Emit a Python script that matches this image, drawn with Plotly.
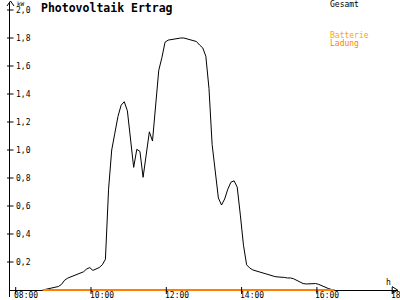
import plotly.graph_objects as go

times = ["08:43", "08:48", "08:53", "08:58", "09:03", "09:08", "09:13", "09:18", "09:23", "09:28",
         "09:33", "09:38", "09:43", "09:48", "09:53", "09:58", "10:03", "10:08", "10:13", "10:18",
         "10:23", "10:28", "10:33", "10:38", "10:43", "10:48", "10:53", "10:58", "11:03", "11:08",
         "11:13", "11:18", "11:23", "11:28", "11:33", "11:38", "11:43", "11:48", "11:53", "11:58",
         "12:03", "12:08", "12:13", "12:18", "12:23", "12:28", "12:33", "12:38", "12:43", "12:48",
         "12:53", "12:58", "13:03", "13:08", "13:13", "13:18", "13:23", "13:28", "13:33", "13:38",
         "13:43", "13:48", "13:53", "13:58", "14:03", "14:08", "14:13", "14:18", "14:23", "14:28",
         "14:33", "14:38", "14:43", "14:48", "14:53", "14:58", "15:03", "15:08", "15:13", "15:18",
         "15:23", "15:28", "15:33", "15:38", "15:43", "15:48", "15:53", "15:58", "16:03", "16:08",
         "16:13", "16:18", "16:23", "16:28"]

gesamt = [0, 0.005, 0.015, 0.02, 0.02, 0.025, 0.04, 0.07, 0.085, 0.095,
          0.10, 0.11, 0.12, 0.13, 0.15, 0.16, 0.14, 0.15, 0.16, 0.18,
          0.22, 0.72, 1.00, 1.12, 1.24, 1.32, 1.345, 1.28, 1.06, 0.876,
          1.005, 0.99, 0.805, 0.95, 1.13, 1.064, 1.31, 1.57, 1.66, 1.77,
          1.785, 1.79, 1.79, 1.795, 1.80, 1.80, 1.795, 1.785, 1.78, 1.775,
          1.75, 1.73, 1.67, 1.44, 1.04, 0.857, 0.657, 0.607, 0.65, 0.72,
          0.77, 0.78, 0.735, 0.535, 0.32, 0.18, 0.157, 0.143, 0.136, 0.13,
          0.12, 0.115, 0.107, 0.10, 0.096, 0.093, 0.093, 0.09, 0.086, 0.086,
          0.08, 0.07, 0.057, 0.046, 0.043, 0.043, 0.043, 0.046, 0.04, 0.03,
          0.018, 0.011, 0.004, 0]

batterie_ladung = [0] * len(times)

x_tick_hours = [8, 10, 12, 14, 16, 18]
x_tick_labels = ["08:00", "10:00", "12:00", "14:00", "16:00", "18:00"]
y_tick_vals = [0.2, 0.4, 0.6, 0.8, 1.0, 1.2, 1.4, 1.6, 1.8, 2.0]
y_tick_labels = ["0,2", "0,4", "0,6", "0,8", "1,0", "1,2", "1,4", "1,6", "1,8", "2,0"]

title = "Photovoltaik Ertrag"
legend_items = [("Gesamt", "#000000", 4.5), ("Batterie", "#FFA500", 36), ("Ladung", "#FF8000", 44)]

FONT = "DejaVu Sans Mono"
W, H = 400, 300
L, R, T, B = 10, 2, 2, 3
PW, PH = W - L - R, H - T - B


def X(px):
    return (px - L) / PW


def Y(py):
    return (H - B - py) / PH


def to_hours(t):
    h, m = t.split(":")
    return int(h) + int(m) / 60.0


hours = [to_hours(t) for t in times]

fig = go.Figure()
fig.add_trace(go.Scatter(x=hours, y=gesamt, mode="lines",
                         line=dict(color="black", width=1), hoverinfo="skip"))
fig.add_trace(go.Scatter(x=hours, y=batterie_ladung, mode="lines",
                         line=dict(color="#FF8000", width=2), hoverinfo="skip"))

px_per_h = 37.65
x0_px = 15.7
xmin = 8 + (L - x0_px) / px_per_h
xmax = 8 + (W - R - x0_px) / px_per_h
ppk = 140.0
zero_py = 290.0
ymin = (zero_py - (H - B)) / ppk
ymax = (zero_py - T) / ppk

shapes = []
annotations = []

# y ticks crossing the axis
for v in y_tick_vals:
    shapes.append(dict(type="line", xref="paper", yref="y", x0=X(7), x1=X(13.5), y0=v, y1=v,
                       line=dict(color="black", width=1)))
# x ticks crossing the axis
for h in x_tick_hours:
    shapes.append(dict(type="line", xref="x", yref="paper", x0=h, x1=h, y0=Y(294), y1=Y(287),
                       line=dict(color="black", width=1)))
# y arrow head
shapes.append(dict(type="path", xref="paper", yref="paper",
                   path=f"M {X(7)} {Y(6)} L {X(10.5)} {Y(1)} L {X(14)} {Y(6)}",
                   line=dict(color="black", width=1)))
# x arrow head
shapes.append(dict(type="path", xref="paper", yref="paper",
                   path=f"M {X(392)} {Y(286.5)} L {X(397.5)} {Y(290)} L {X(392)} {Y(293.5)}",
                   line=dict(color="black", width=1)))

for v, t in zip(y_tick_vals, y_tick_labels):
    annotations.append(dict(x=X(13.5), xref="paper", y=v, yref="y", text=t, showarrow=False,
                            xanchor="left", yanchor="middle",
                            font=dict(family=FONT, size=8, color="black")))
for h, t in zip(x_tick_hours, x_tick_labels):
    annotations.append(dict(x=h, xref="x", xshift=-3.5, y=Y(295.5), yref="paper", text=t,
                            showarrow=False, xanchor="left", yanchor="middle",
                            font=dict(family=FONT, size=8, color="black")))

annotations.append(dict(x=X(14.5), y=Y(3.5), xref="paper", yref="paper", text="kW", showarrow=False,
                        xanchor="left", yanchor="middle", font=dict(family=FONT, size=6, color="black")))
annotations.append(dict(x=X(384), y=Y(282), xref="paper", yref="paper", text="h", showarrow=False,
                        xanchor="left", yanchor="middle", font=dict(family=FONT, size=8, color="black")))
annotations.append(dict(x=X(38.5), y=Y(7.5), xref="paper", yref="paper", text="<b>" + title + "</b>",
                        showarrow=False, xanchor="left", yanchor="middle",
                        font=dict(family=FONT, size=11.5, color="black")))
for text, color, py in legend_items:
    annotations.append(dict(x=X(328), y=Y(py), xref="paper", yref="paper", text=text, showarrow=False,
                            xanchor="left", yanchor="middle", font=dict(family=FONT, size=8, color=color)))

fig.update_layout(
    width=W, height=H,
    margin=dict(l=L, r=R, t=T, b=B, pad=0),
    paper_bgcolor="white", plot_bgcolor="white",
    showlegend=False,
    xaxis=dict(range=[xmin, xmax], showgrid=False, zeroline=False, showticklabels=False,
               ticks="", showline=False, fixedrange=True),
    yaxis=dict(range=[ymin, ymax], showgrid=False, zeroline=True, zerolinecolor="black",
               zerolinewidth=1, showticklabels=False, ticks="", showline=True,
               linecolor="black", linewidth=1, fixedrange=True),
    shapes=shapes,
    annotations=annotations,
)

fig.write_html("out.html", config={"displayModeBar": False})
